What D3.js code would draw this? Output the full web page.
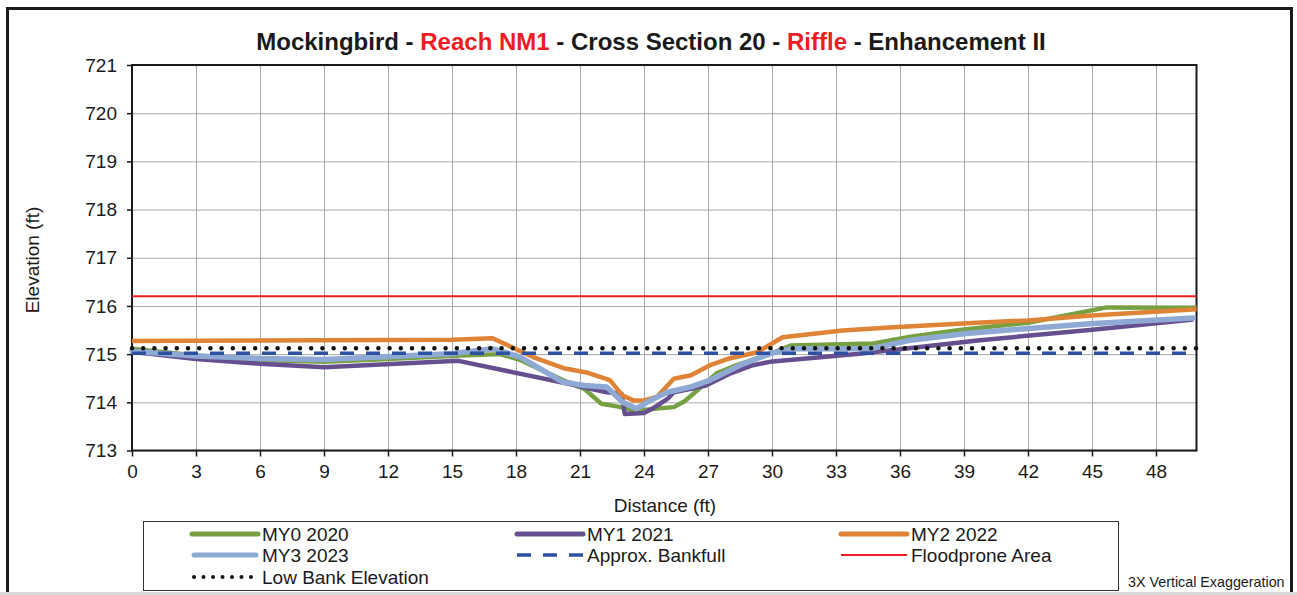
<!DOCTYPE html>
<html>
<head>
<meta charset="utf-8">
<script src="https://cdn.jsdelivr.net/npm/d3@7"></script>
<style>
body { margin: 0; background: #fff; }
svg { font-family: "Liberation Sans", Arial, sans-serif; display: block; }
.grid line { stroke: #a9a9a9; stroke-width: 1; }
.grid path { stroke: none; }
.axis path, .axis line { stroke: #1a1a1a; }
.axis text { fill: #1a1a1a; font-size: 19px; }
</style>
</head>
<body>
<div id="chart"></div>
<script>
// survey data (distance ft, elevation ft)
var my0Dist = [0, 3, 6, 9, 12, 15.4, 17.25, 18.2, 20.2, 21.2, 22.0, 22.8, 23.6, 24.6, 25.4, 25.9, 26.5, 27.4, 28.35, 29.9, 30.9, 34.75, 36.5, 38.8, 42, 45.7, 49.9];
var my0Elev = [715.11, 714.97, 714.88, 714.84, 714.9, 714.97, 715.0, 714.88, 714.46, 714.28, 713.97, 713.91, 713.82, 713.87, 713.9, 714.02, 714.25, 714.6, 714.77, 715.0, 715.18, 715.22, 715.36, 715.5, 715.65, 715.97, 715.96];

var my1Dist = [0, 3, 6, 9, 15.3, 20.4, 22.25, 22.95, 23.1, 24.0, 24.4, 25.1, 25.4, 26.2, 26.9, 28.0, 29.1, 29.9, 34.1, 39.75, 44.9, 49.75];
var my1Elev = [715.05, 714.9, 714.8, 714.73, 714.86, 714.39, 714.21, 714.18, 713.76, 713.78, 713.87, 714.07, 714.21, 714.28, 714.35, 714.59, 714.77, 714.84, 715.01, 715.29, 715.5, 715.72];

var my2Dist = [0, 15, 16.9, 18.8, 20.3, 21.3, 22.4, 23.0, 23.5, 24.0, 24.6, 25.4, 26.2, 27.1, 28.0, 29.3, 30.5, 33.3, 35.7, 39.6, 42, 45, 49.9];
var my2Elev = [715.27, 715.3, 715.33, 714.94, 714.7, 714.62, 714.46, 714.14, 714.04, 714.04, 714.11, 714.49, 714.56, 714.77, 714.91, 715.04, 715.35, 715.49, 715.56, 715.65, 715.7, 715.8, 715.93];

var my3Dist = [0, 3, 6, 9, 15, 16.9, 18.2, 20.2, 21.2, 22.25, 23.0, 23.65, 24.3, 25.1, 26.2, 27.1, 28.5, 29.9, 30.9, 34.6, 36.5, 39.1, 44.9, 49.75];
var my3Elev = [715.06, 714.96, 714.91, 714.89, 715.01, 715.11, 714.94, 714.42, 714.35, 714.32, 714.0, 713.87, 714.04, 714.21, 714.32, 714.46, 714.77, 715.01, 715.11, 715.11, 715.29, 715.43, 715.63, 715.75];

var bankfullElev = 715.02;
var floodproneElev = 716.2;
var lowBankElev = 715.12;
var refDist = [0, 49.9];

var xTicks = [0, 3, 6, 9, 12, 15, 18, 21, 24, 27, 30, 33, 36, 39, 42, 45, 48];
var yTicks = [713, 714, 715, 716, 717, 718, 719, 720, 721];

var legendNames = ["MY0 2020", "MY1 2021", "MY2 2022", "MY3 2023", "Approx. Bankfull", "Floodprone Area", "Low Bank Elevation"];

var W = 1297, H = 595;
var margin = {top: 65, right: 100.5, bottom: 144.5, left: 132};
var width = W - margin.left - margin.right,
    height = H - margin.top - margin.bottom;

var x = d3.scaleLinear().domain([0, 49.9]).range([0, width]);
var y = d3.scaleLinear().domain([713, 721]).range([height, 0]);

var svg = d3.select("#chart").append("svg")
    .attr("width", W)
    .attr("height", H);

// outer frame
svg.append("rect")
    .attr("x", 7.5).attr("y", 8.5)
    .attr("width", 1284).attr("height", 600)
    .attr("fill", "none")
    .attr("stroke", "#1a1a1a")
    .attr("stroke-width", 3);
svg.append("line")
    .attr("x1", 0).attr("x2", W)
    .attr("y1", 593.5).attr("y2", 593.5)
    .attr("stroke", "#d9d9d9").attr("stroke-width", 3);

// title
var title = svg.append("text")
    .attr("x", 651).attr("y", 50)
    .attr("text-anchor", "middle")
    .style("font-size", "24px")
    .style("font-weight", "bold")
    .attr("fill", "#1a1a1a");
[["Mockingbird - ", "#1a1a1a"], ["Reach NM1", "#ee1c24"], [" - Cross Section 20 - ", "#1a1a1a"],
 ["Riffle", "#ee1c24"], [" - Enhancement II", "#1a1a1a"]].forEach(function(p) {
    title.append("tspan").attr("fill", p[1]).text(p[0]);
});

var g = svg.append("g")
    .attr("transform", "translate(" + margin.left + "," + margin.top + ")");

// gridlines
g.append("g")
    .attr("class", "grid")
    .attr("transform", "translate(0," + height + ")")
    .call(d3.axisBottom(x).tickValues(xTicks).tickSize(-height).tickFormat(""));
g.append("g")
    .attr("class", "grid")
    .call(d3.axisLeft(y).tickValues(yTicks).tickSize(-width).tickFormat(""));

// plot box
g.append("rect")
    .attr("width", width).attr("height", height)
    .attr("fill", "none")
    .attr("stroke", "#1a1a1a")
    .attr("stroke-width", 2);

// axes
var xAxis = g.append("g")
    .attr("class", "axis")
    .attr("transform", "translate(0," + height + ")")
    .call(d3.axisBottom(x).tickValues(xTicks).tickSize(6).tickPadding(8).tickFormat(d3.format("d")));
var yAxis = g.append("g")
    .attr("class", "axis")
    .call(d3.axisLeft(y).tickValues(yTicks).tickSize(5).tickPadding(10).tickFormat(d3.format("d")));
xAxis.select(".domain").remove();
yAxis.select(".domain").remove();
g.selectAll(".axis line").attr("stroke-width", 1.5);

svg.append("text")
    .attr("x", 665).attr("y", 512)
    .attr("text-anchor", "middle")
    .style("font-size", "19px")
    .attr("fill", "#1a1a1a")
    .text("Distance (ft)");
svg.append("text")
    .attr("transform", "translate(39,260) rotate(-90)")
    .attr("text-anchor", "middle")
    .style("font-size", "19px")
    .attr("fill", "#1a1a1a")
    .text("Elevation (ft)");

// series
var line = d3.line()
    .x(function(d) { return x(d[0]); })
    .y(function(d) { return y(d[1]); });

function pairs(ds, es) {
    return ds.map(function(d, i) { return [d, es[i]]; });
}

var styles = [
    {stroke: "#77a043", width: 4.5, dash: null, cap: "butt"},
    {stroke: "#664f8e", width: 4.5, dash: null, cap: "butt"},
    {stroke: "#df8436", width: 4.5, dash: null, cap: "butt"},
    {stroke: "#8eaad4", width: 5.5, dash: null, cap: "round"},
    {stroke: "#2e50a0", width: 3.5, dash: "14,12", cap: "butt"},
    {stroke: "#ee1c24", width: 2, dash: null, cap: "butt"},
    {stroke: "#111111", width: 4.5, dash: "0,11.2", cap: "round"}
];

var seriesData = [
    pairs(my0Dist, my0Elev),
    pairs(my1Dist, my1Elev),
    pairs(my2Dist, my2Elev),
    pairs(my3Dist, my3Elev),
    pairs(refDist, [bankfullElev, bankfullElev]),
    pairs(refDist, [floodproneElev, floodproneElev]),
    pairs(refDist, [lowBankElev, lowBankElev])
];

seriesData.forEach(function(data, i) {
    var s = styles[i];
    g.append("path")
        .attr("d", line(data))
        .attr("fill", "none")
        .attr("stroke", s.stroke)
        .attr("stroke-width", s.width)
        .attr("stroke-linejoin", "round")
        .attr("stroke-linecap", s.cap)
        .attr("stroke-dasharray", s.dash);
});

// legend
svg.append("rect")
    .attr("x", 143.5).attr("y", 521.5)
    .attr("width", 975).attr("height", 69)
    .attr("fill", "#fff")
    .attr("stroke", "#333")
    .attr("stroke-width", 1);

var colX = [192, 517, 841];
var rowY = [534, 555, 577];
legendNames.forEach(function(name, i) {
    var cx = colX[i % 3], cy = rowY[Math.floor(i / 3)];
    var s = styles[i];
    svg.append("line")
        .attr("x1", cx + (s.cap === "round" ? 2 : 0)).attr("x2", cx + 66 - (s.cap === "round" ? 2 : 0))
        .attr("y1", cy).attr("y2", cy)
        .attr("stroke", s.stroke)
        .attr("stroke-width", i === 6 ? 4 : (i < 4 ? 5 : s.width))
        .attr("stroke-linecap", i < 4 ? "round" : s.cap)
        .attr("stroke-dasharray", i === 6 ? "0,9.5" : s.dash);
    svg.append("text")
        .attr("x", cx + 70).attr("y", cy + 7)
        .style("font-size", "19px")
        .attr("fill", "#1a1a1a")
        .text(name);
});

svg.append("text")
    .attr("x", 1128).attr("y", 587)
    .style("font-size", "14.3px")
    .attr("fill", "#1a1a1a")
    .text("3X Vertical Exaggeration");
</script>
</body>
</html>
